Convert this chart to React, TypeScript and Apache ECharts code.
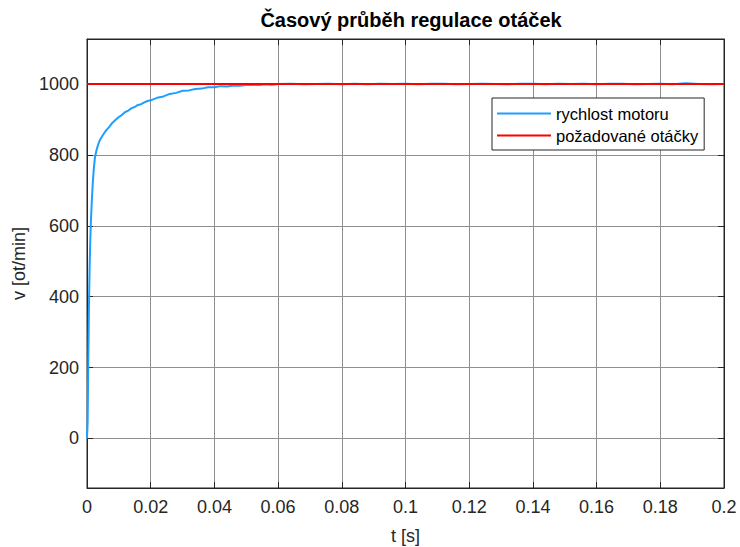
import React, { useEffect, useRef } from "react";
import * as echarts from "echarts";

const titleText = "Časový průběh regulace otáček";
const seriesNames = ["rychlost motoru", "požadované otáčky"];
const xAxisName = "t [s]";
const yAxisName = "v [ot/min]";
const yTickValues = [0, 200, 400, 600, 800, 1000];

const timeValues = [
  0, 0.0002, 0.0004, 0.0006, 0.0008, 0.001, 0.0012, 0.0015, 0.0018, 0.0021,
  0.0025, 0.003, 0.0035, 0.004, 0.005, 0.006, 0.007, 0.008, 0.009, 0.01,
  0.011, 0.012, 0.013, 0.014, 0.015, 0.016, 0.017, 0.018, 0.019, 0.02,
  0.022, 0.024, 0.026, 0.028, 0.03, 0.032, 0.034, 0.036, 0.038, 0.04,
  0.042, 0.044, 0.046, 0.048, 0.05, 0.052, 0.054, 0.056, 0.058, 0.06,
  0.064, 0.068, 0.072, 0.076, 0.08, 0.084, 0.088, 0.092, 0.096, 0.1,
  0.104, 0.108, 0.112, 0.116, 0.12, 0.124, 0.128, 0.132, 0.136, 0.14,
  0.144, 0.148, 0.152, 0.156, 0.16, 0.164, 0.168, 0.172, 0.176, 0.18,
  0.184, 0.188, 0.192, 0.196, 0.2,
];

const motorSpeed = [
  0, 45, 215, 365, 470, 548, 607, 668, 718, 757,
  793, 814, 829, 841, 856, 869, 879, 891, 899, 907,
  913, 921, 925, 932, 935, 941, 943, 948, 952, 954,
  961, 965, 972, 975, 981, 982, 986, 987, 991, 991,
  994, 993, 996, 995, 997, 998, 997, 999, 998, 1000,
  1001, 999, 1000, 1001, 999, 1001, 999, 1001, 1000, 1001,
  999, 1001, 1001, 999, 1000, 1001, 1000, 999, 1001, 1001,
  999, 1001, 1000, 1001, 999, 1001, 1001, 999, 1000, 1001,
  999, 1002, 1000, 999, 1000,
];

const requiredTime = [0, 0.2];
const requiredSpeed = [1000, 1000];

const X_MIN = 0;
const X_MAX = 0.2;
const X_STEP = 0.02;
const Y_MIN = -140;
const Y_MAX = 1127;

export default function App() {
  const ref = useRef<HTMLDivElement>(null);

  useEffect(() => {
    if (!ref.current) return;
    const chart = echarts.init(ref.current, undefined, { renderer: "svg" });
    const font = "'Liberation Sans', Arial, Helvetica, sans-serif";
    const axisColor = "#262626";
    const gridColor = "#8f8f8f";

    const option: any = {
      animation: false,
      backgroundColor: "#ffffff",
      textStyle: { fontFamily: font },
      title: {
        text: titleText,
        left: 406,
        textAlign: "center",
        top: 5,
        textStyle: { fontFamily: font, fontSize: 20, fontWeight: "bold", color: "#000" },
      },
      grid: {
        left: 87,
        right: 16,
        top: 39,
        bottom: 59,
        containLabel: false,
        outerBoundsMode: "none",
        show: true,
        borderColor: axisColor,
        borderWidth: 1,
      },
      legend: {
        orient: "vertical",
        left: 492,
        top: 98,
        backgroundColor: "#fff",
        borderColor: axisColor,
        borderWidth: 1,
        borderRadius: 0,
        padding: [7, 6, 6, 5],
        icon: "rect",
        itemWidth: 54,
        itemHeight: 2,
        itemGap: 5,
        textStyle: { fontFamily: font, fontSize: 16.5, color: "#000" },
        data: seriesNames,
      },
      xAxis: [
        {
          type: "value",
          min: X_MIN,
          max: X_MAX,
          interval: X_STEP,
          name: xAxisName,
          nameLocation: "middle",
          nameGap: 39,
          nameTextStyle: { fontFamily: font, fontSize: 18, color: axisColor },
          axisLine: { onZero: false, lineStyle: { color: axisColor, width: 1 } },
          axisTick: { inside: true, length: 6, lineStyle: { color: axisColor } },
          axisLabel: { fontFamily: font, fontSize: 18, color: axisColor, margin: 10 },
          splitLine: { show: true, lineStyle: { color: gridColor, width: 1 } },
        },
        {
          type: "value",
          position: "top",
          min: X_MIN,
          max: X_MAX,
          interval: X_STEP,
          axisLine: { onZero: false, lineStyle: { color: axisColor, width: 1 } },
          axisTick: { inside: true, length: 6, lineStyle: { color: axisColor } },
          axisLabel: { show: false },
          splitLine: { show: false },
        },
      ],
      yAxis: [
        {
          type: "value",
          min: Y_MIN,
          max: Y_MAX,
          name: yAxisName,
          nameLocation: "middle",
          nameGap: 52,
          nameRotate: 90,
          nameTextStyle: { fontFamily: font, fontSize: 18, color: axisColor },
          axisLine: { show: true, onZero: false, lineStyle: { color: axisColor, width: 1 } },
          axisTick: { show: true, inside: true, length: 6, lineStyle: { color: axisColor }, customValues: yTickValues },
          axisLabel: {
            fontFamily: font,
            fontSize: 18,
            color: axisColor,
            margin: 8,
            customValues: yTickValues,
            formatter: (v: number) => String(v),
          },
          splitLine: { show: true, lineStyle: { color: gridColor, width: 1 } },
        },
        {
          type: "value",
          position: "right",
          min: Y_MIN,
          max: Y_MAX,
          axisLine: { show: true, onZero: false, lineStyle: { color: axisColor, width: 1 } },
          axisTick: { show: true, inside: true, length: 6, lineStyle: { color: axisColor }, customValues: yTickValues },
          axisLabel: { show: false, customValues: yTickValues },
          splitLine: { show: false },
        },
      ],
      series: [
        {
          name: seriesNames[0],
          type: "line",
          xAxisIndex: 0,
          yAxisIndex: 0,
          symbol: "none",
          smooth: false,
          lineStyle: { color: "#1e9fff", width: 2 },
          itemStyle: { color: "#1e9fff" },
          data: timeValues.map((t, i) => [t, motorSpeed[i]]),
          z: 2,
        },
        {
          name: seriesNames[1],
          type: "line",
          xAxisIndex: 0,
          yAxisIndex: 0,
          symbol: "none",
          lineStyle: { color: "#ff0000", width: 2 },
          itemStyle: { color: "#ff0000" },
          data: requiredTime.map((t, i) => [t, requiredSpeed[i]]),
          z: 3,
        },
      ],
    };

    chart.setOption(option);
    return () => chart.dispose();
  }, []);

  return (
    <div
      ref={ref}
      style={{ position: "fixed", left: 0, top: 0, width: 740, height: 547, background: "#fff" }}
    />
  );
}
